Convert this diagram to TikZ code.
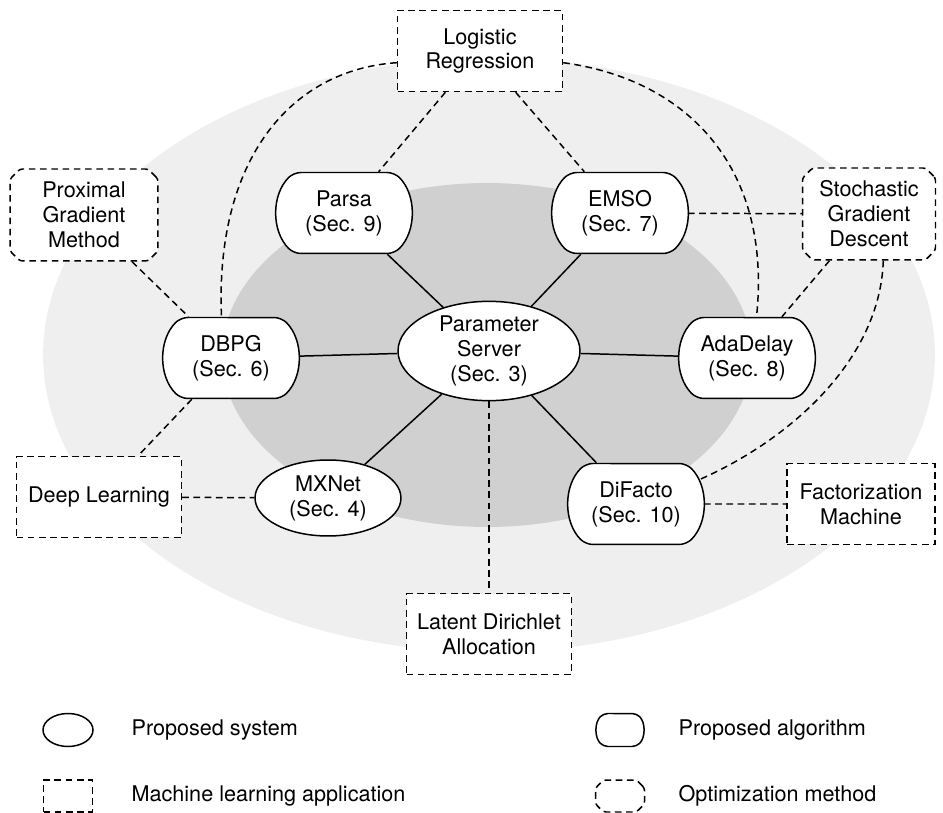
\documentclass[tikz,border=0pt]{standalone}
\usepackage{fontspec}
\setmainfont{TeX Gyre Heros}
\usepackage{xcolor}
\usepackage{tikz}
\usetikzlibrary{shapes.geometric,%
  shapes.misc
}

\definecolor{outergray}{HTML}{EFEFEF}
\definecolor{innergray}{HTML}{D0D0D0}

\tikzset{
  dashline/.style={dash pattern=on 3.8pt off 2.6pt},
  sysnode/.style={ellipse, draw, fill=white, inner sep=0pt, align=center,
    minimum width=3.64cm, minimum height=1.96cm},
  algnode/.style={rounded rectangle, rounded rectangle arc length=90,
    rounded corners=4pt, draw,
    fill=white, align=center, minimum width=2.92cm, minimum height=1.62cm},
  appnode/.style={rectangle, draw, dashline, fill=white, align=center,
    minimum width=3.3cm, minimum height=1.62cm},
  optnode/.style={chamfered rectangle, chamfered rectangle xsep=0.1cm,
    chamfered rectangle ysep=0.1cm, rounded corners=1.5pt, draw, dashline,
    fill=white, align=center, minimum width=2.96cm, minimum height=1.84cm}
}

\begin{document}
\begin{tikzpicture}[x=0.02cm, y=-0.02cm, line width=0.85pt,
    font=\fontsize{12.3pt}{14.2pt}\selectfont]
            \useasboundingbox (0,0) rectangle (943,813);
            
            % the two rings
            \fill [outergray] (489,355) ellipse [x radius=8.92cm, y radius=5.94cm];
            \fill [innergray] (487,355) ellipse [x radius=5.3cm, y radius=3.44cm];
            
            \node [appnode] (lr) at (480,51) {Logistic\\Regression};
            \node [algnode] (parsa) at (344,213) {Parsa\\(Sec. 9)};
            \node [algnode] (emso) at (620,213) {EMSO\\(Sec. 7)};
            \node [optnode] (pgm) at (84,215) {Proximal\\Gradient\\Method};
            \node [optnode, minimum width=2.66cm] (sgd) at (869,214) {Stochastic\\Gradient\\Descent};
            \node [algnode] (dbpg) at (231,358) {DBPG\\(Sec. 6)};
            \node [sysnode] (ps) at (489,351) {Parameter\\Server\\(Sec. 3)};
            \node [algnode] (ada) at (747,358) {AdaDelay\\(Sec. 8)};
            \node [appnode] (dl) at (99,497) {Deep Learning};
            \node [sysnode, minimum width=2.92cm, minimum height=1.52cm] (mxnet) at (328,498) {MXNet\\(Sec. 4)};
            \node [algnode] (difacto) at (636,504) {DiFacto\\(Sec. 10)};
            \node [appnode, minimum width=2.96cm] (fm) at (861,504) {Factorization\\Machine};
            \node [appnode] (lda) at (489,634) {Latent Dirichlet\\Allocation};
            
            % system to algorithms
            \draw (ps) -- (parsa);
            \draw (ps) -- (emso);
            \draw (ps) -- (dbpg);
            \draw (ps) -- (ada);
            \draw (ps) -- (mxnet);
            \draw (ps) -- (difacto);
            
            % applications and methods
            \draw [dashline] (ps) -- (lda);
            \draw [dashline] (lr) -- (parsa);
            \draw [dashline] (lr) -- (emso);
            \draw [dashline] (lr.188) .. controls (290,70) and (215,160) .. (dbpg.103);
            \draw [dashline] (lr.-8) .. controls (690,80) and (772,170) .. (ada.77);
            \draw [dashline] (pgm) -- (dbpg);
            \draw [dashline] (emso) -- (sgd);
            \draw [dashline] (sgd) -- (ada);
            \draw [dashline] (sgd.-73) .. controls (880,360) and (790,440) .. (difacto.21);
            \draw [dashline] (dbpg) -- (dl);
            \draw [dashline] (dl) -- (mxnet);
            \draw [dashline] (difacto) -- (fm);
            
            % legend
            \node [sysnode, minimum width=1cm, minimum height=0.66cm] (legsys) at (68,730) {};
            \node [anchor=west] (legsystext) at (125,730) {Proposed system};
            \node [algnode, rounded corners=2.5pt, minimum width=0.98cm, minimum height=0.66cm] (legalg) at (620,730) {};
            \node [anchor=west] (legalgtext) at (672,730) {Proposed algorithm};
            \node [appnode, minimum width=0.98cm, minimum height=0.64cm] (legapp) at (68,796) {};
            \node [anchor=west] (legapptext) at (125,796) {Machine learning application};
            \node [optnode, minimum width=0.98cm, minimum height=0.64cm, chamfered rectangle xsep=0.08cm, chamfered rectangle ysep=0.08cm] (legopt) at (620,796) {};
            \node [anchor=west] (legopttext) at (672,796) {Optimization method};
        \end{tikzpicture}
\end{document}
